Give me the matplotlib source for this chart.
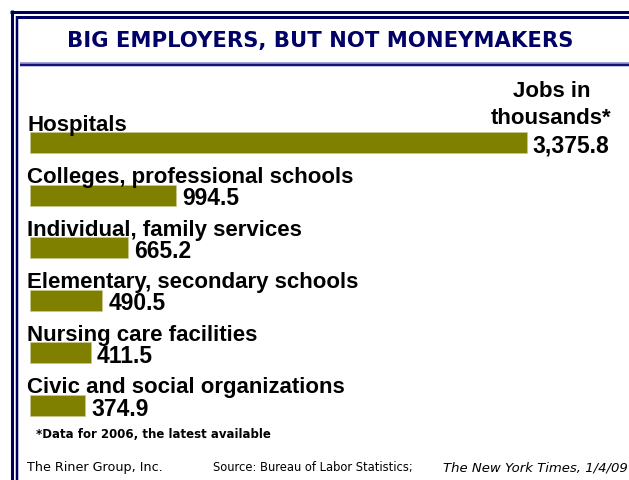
import matplotlib
matplotlib.use("Agg")
import matplotlib.pyplot as plt
from matplotlib.lines import Line2D

categories = [
    "Hospitals",
    "Colleges, professional schools",
    "Individual, family services",
    "Elementary, secondary schools",
    "Nursing care facilities",
    "Civic and social organizations",
]
jobs = [3375.8, 994.5, 665.2, 490.5, 411.5, 374.9]
value_labels = ["3,375.8", "994.5", "665.2", "490.5", "411.5", "374.9"]

W, H = 629, 480
fig = plt.figure(figsize=(W / 100, H / 100), dpi=100)
fig.patch.set_facecolor("white")

# frame lines, drawn in pixel units from the top-left corner
def hline(y, x0, x1, lw, color):
    fig.add_artist(Line2D([x0 / W, x1 / W], [1 - y / H, 1 - y / H],
                          transform=fig.transFigure, lw=lw * 0.72, color=color,
                          solid_capstyle="butt"))

def vline(x, y0, y1, lw, color):
    fig.add_artist(Line2D([x / W, x / W], [1 - y0 / H, 1 - y1 / H],
                          transform=fig.transFigure, lw=lw * 0.72, color=color,
                          solid_capstyle="butt"))

navy = "#000060"
hline(11.5, 10, W, 3, navy)
vline(11.5, 10, H, 3, navy)
hline(16.5, 16, W, 3, navy)
vline(17, 16, H, 2.5, navy)
hline(62.5, 20, W, 1.5, "#8a8ad0")
hline(64.8, 20, W, 2.5, "#14147a")

fig.text(320 / W, 1 - 41 / H, "BIG EMPLOYERS, BUT NOT MONEYMAKERS",
         ha="center", va="center", fontsize=15.2, fontweight="bold",
         color="#000066", family="DejaVu Sans")

# bar area: x=0 sits at pixel 30, one unit = 0.1472 px
px = 0.1472
ax = fig.add_axes([0, 0, 1, 1])
ax.set_xlim(-30 / px, (W - 30) / px)
step = 52.6
ax.set_ylim((H - 142.5) / step, -142.5 / step)
ax.axis("off")

bh = 21 / step
ypos = list(range(len(categories)))
ax.barh(ypos, jobs, height=bh, left=0, color="#808000",
        edgecolor="#c8c890", linewidth=0.5)

for i, (name, v, lab) in enumerate(zip(categories, jobs, value_labels)):
    ax.text(-20, i - bh / 2 - 1.5 / step, name, ha="left", va="baseline",
            fontsize=16, fontweight="bold", family="Liberation Sans")
    ax.text(v + 6 / px, i + bh / 2 - 0.5 / step, lab, ha="left",
            va="baseline", fontsize=16.5, fontweight="bold",
            family="Liberation Sans")

fig.text(551.5 / W, 1 - 105 / H, "Jobs in\nthousands*", ha="center",
         va="center", multialignment="center", linespacing=1.32,
         fontsize=16, fontweight="bold", family="Liberation Sans")

fig.text(36 / W, 1 - 435 / H, "*Data for 2006, the latest available",
         ha="left", va="center", fontsize=8.5, fontweight="bold",
         family="DejaVu Sans")
fig.text(27 / W, 1 - 468 / H, "The Riner Group, Inc.", ha="left",
         va="center", fontsize=9.2, family="DejaVu Sans")
fig.text(213 / W, 1 - 468 / H, "Source: Bureau of Labor Statistics;",
         ha="left", va="center", fontsize=8.3, family="DejaVu Sans")
fig.text(443 / W, 1 - 468 / H, "The New York Times, 1/4/09", ha="left",
         va="center", fontsize=9.5, style="italic", family="DejaVu Sans")

fig.savefig("out.png", dpi=100)
